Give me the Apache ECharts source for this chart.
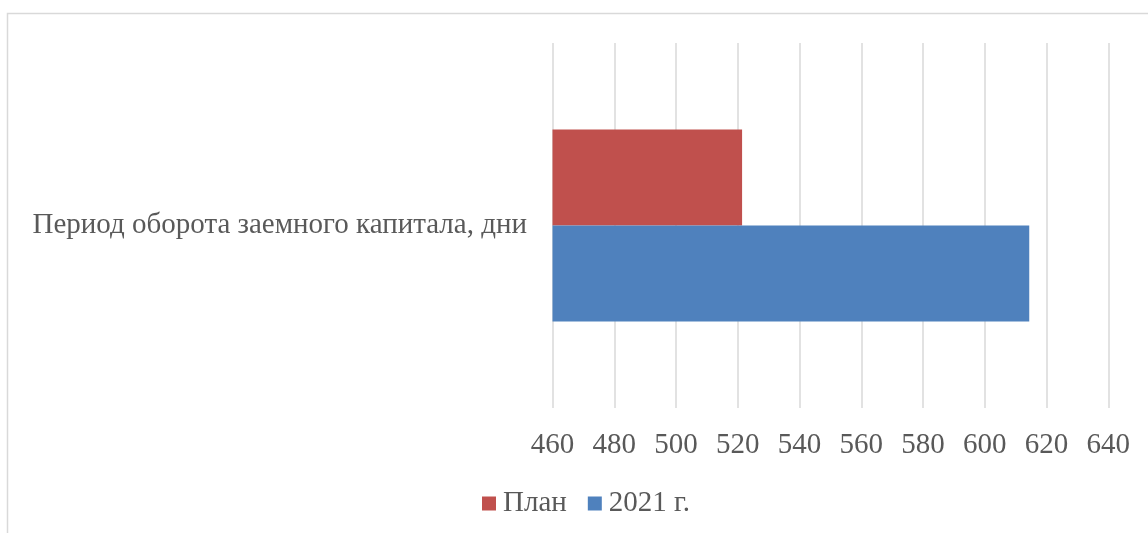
<!DOCTYPE html>
<html>
<head>
<meta charset="utf-8">
<script src="https://cdn.jsdelivr.net/npm/echarts@6/dist/echarts.min.js"></script>
<style>
html,body{margin:0;padding:0;background:#fff;}
#chart{width:1148px;height:533px;}
</style>
</head>
<body>
<div id="chart"></div>
<script>
const categories = ['Период оборота заемного капитала, дни'];
const seriesNames = ['План', '2021 г.'];
const planValues = [521.4];
const actual2021Values = [614.4];
const xTicks = { min: 460, max: 640, interval: 20 };

const chart = echarts.init(document.getElementById('chart'), null, { renderer: 'canvas' });
const font = "'Liberation Serif', 'Times New Roman', serif";
const option = {
  backgroundColor: '#ffffff',
  animation: false,
  graphic: [{
    type: 'rect',
    shape: { x: 7.5, y: 13.5, width: 1300, height: 700 },
    style: { fill: 'none', stroke: '#d9d9d9', lineWidth: 1.5 },
    silent: true
  }],
  legend: {
    data: seriesNames,
    left: 477,
    top: 484,
    itemWidth: 14,
    itemHeight: 14,
    itemGap: 21,
    icon: 'rect',
    textStyle: { fontFamily: font, fontSize: 29, color: '#595959', padding: [0, 0, 0, 2] }
  },
  grid: { left: 552.5, right: 39.7, top: 43, bottom: 125, containLabel: false },
  xAxis: {
    type: 'value',
    min: xTicks.min,
    max: xTicks.max,
    interval: xTicks.interval,
    axisLine: { show: false },
    axisTick: { show: false },
    splitLine: { show: true, lineStyle: { color: '#d9d9d9', width: 1.5 } },
    axisLabel: { fontFamily: font, fontSize: 29, color: '#595959', margin: 23 }
  },
  yAxis: {
    type: 'category',
    data: categories,
    axisLine: { show: false },
    axisTick: { show: false },
    axisLabel: { fontFamily: font, fontSize: 29, color: '#595959', margin: 25.5 }
  },
  series: [
    {
      name: seriesNames[0],
      type: 'bar',
      data: planValues,
      barWidth: 96,
      barGap: '0%',
      itemStyle: { color: '#C0504D' }
    },
    {
      name: seriesNames[1],
      type: 'bar',
      data: actual2021Values,
      barWidth: 96,
      barGap: '0%',
      itemStyle: { color: '#4F81BD' }
    }
  ]
};
chart.setOption(option);
</script>
</body>
</html>
